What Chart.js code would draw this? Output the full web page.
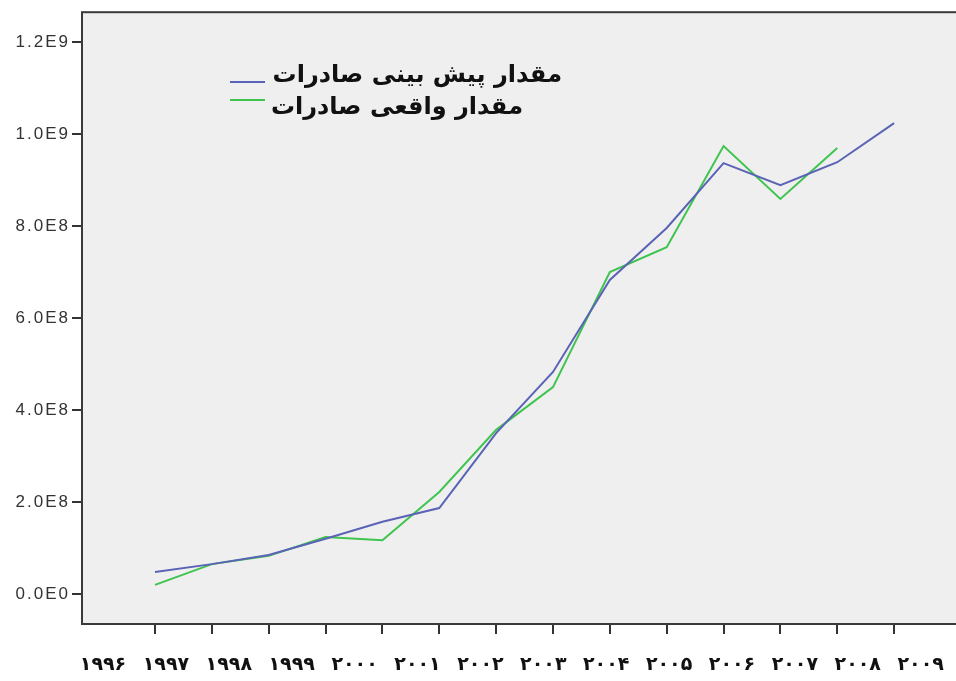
<!DOCTYPE html>
<html>
<head>
<meta charset="utf-8">
<script src="https://cdn.jsdelivr.net/npm/chart.js@4"></script>
<style>
  html, body { margin:0; padding:0; background:#fff; }
  #wrap { width:956px; height:681px; }
</style>
</head>
<body>
<div id="wrap"><canvas id="chart" width="956" height="681"></canvas></div>
<script>
const years = ['۱۹۹۶','۱۹۹۷','۱۹۹۸','۱۹۹۹','۲۰۰۰','۲۰۰۱','۲۰۰۲','۲۰۰۳','۲۰۰۴','۲۰۰۵','۲۰۰۶','۲۰۰۷','۲۰۰۸','۲۰۰۹'];
const forecast = [0.048e9, 0.065e9, 0.085e9, 0.120e9, 0.157e9, 0.187e9, 0.350e9, 0.483e9, 0.683e9, 0.796e9, 0.937e9, 0.889e9, 0.939e9, 1.024e9];
const actual = [0.020e9, 0.065e9, 0.083e9, 0.124e9, 0.117e9, 0.222e9, 0.357e9, 0.450e9, 0.700e9, 0.754e9, 0.974e9, 0.859e9, 0.970e9];
const yTicks = [0, 0.2e9, 0.4e9, 0.6e9, 0.8e9, 1.0e9, 1.2e9];
const seriesNames = ['مقدار پیش بینی صادرات', 'مقدار واقعی صادرات'];

function sci(v){
    if (v === 0) return '0.0E0';
    const e = Math.floor(Math.log10(v) + 1e-9);
    return (v / Math.pow(10, e)).toFixed(1) + 'E' + e;
}

// plot background + frame, and the wide letter spacing of the axis text
const frame = {
    id: 'frame',
    beforeDraw(chart){
        chart.ctx.letterSpacing = '2px';
    },
    beforeDatasetsDraw(chart){
        const {ctx, chartArea:a} = chart;
        ctx.letterSpacing = '0px';
        ctx.save();
        ctx.fillStyle = '#efefef';
        ctx.fillRect(a.left, a.top, a.right - a.left + 4, a.bottom - a.top);
        ctx.restore();
    },
    afterDatasetsDraw(chart){
        const {ctx, chartArea:a} = chart;
        ctx.save();
        ctx.strokeStyle = '#3a3a3a';
        ctx.lineWidth = 2;
        ctx.strokeRect(a.left, a.top, a.right - a.left + 8, a.bottom - a.top);
        ctx.restore();
    }
};

// legend drawn inside the plot, like the original
const innerLegend = {
    id: 'innerLegend',
    afterDraw(chart){
        const ctx = chart.ctx;
        const rows = [
            {line:[230,265,82], text:[562,76]},
            {line:[230,265,100], text:[523,108]}
        ];
        ctx.save();
        ctx.letterSpacing = '0px';
        chart.data.datasets.forEach((ds, i) => {
            const r = rows[i];
            ctx.strokeStyle = ds.borderColor;
            ctx.lineWidth = 2;
            ctx.beginPath();
            ctx.moveTo(r.line[0], r.line[2]);
            ctx.lineTo(r.line[1], r.line[2]);
            ctx.stroke();
            ctx.fillStyle = '#111';
            ctx.font = 'bold 24px "DejaVu Sans"';
            ctx.textAlign = 'right';
            ctx.textBaseline = 'middle';
            ctx.direction = 'rtl';
            ctx.fillText(ds.label, r.text[0], r.text[1]);
        });
        ctx.restore();
    }
};

new Chart(document.getElementById('chart'), {
    type: 'line',
    data: {
        datasets: [
            { label: seriesNames[0], data: forecast.map((v, i) => ({x:i, y:v})), borderColor: '#5a63b5', borderWidth: 2, pointRadius: 0, fill: false, tension: 0 },
            { label: seriesNames[1], data: actual.map((v, i) => ({x:i, y:v})), borderColor: '#3fc44f', borderWidth: 2, pointRadius: 0, fill: false, tension: 0 }
        ]
    },
    options: {
        responsive: false,
        animation: false,
        layout: { padding: { top: 12, right: 0, left: 0, bottom: 0 } },
        plugins: { legend: { display: false }, tooltip: { enabled: false } },
        scales: {
            x: {
                type: 'linear', position: 'bottom', weight: 0,
                min: -1.284, max: 14.02,
                afterBuildTicks: s => { s.ticks = years.map((_, i) => ({value: i})); },
                afterFit: s => { s.height = 10; },
                grid: { drawOnChartArea: false, drawTicks: true, tickLength: 10, color: '#333', lineWidth: 2 },
                border: { display: false },
                ticks: { display: false }
            },
            x2: {
                type: 'linear', position: 'bottom', weight: 1,
                min: -0.334, max: 13.5,
                afterBuildTicks: s => { s.ticks = years.map((_, i) => ({value: i})); },
                afterFit: s => { s.height = 47; },
                grid: { display: false },
                border: { display: false },
                ticks: { color: '#111', padding: 12, maxRotation: 0, autoSkip: false,
                         font: { family: 'DejaVu Sans', size: 19, weight: 'bold' },
                         callback: v => years[v] }
            },
            y: {
                min: -0.0652e9, max: 1.2652e9,
                afterBuildTicks: s => { s.ticks = yTicks.map(v => ({value: v})); },
                afterFit: s => { s.width = 82; },
                grid: { drawOnChartArea: false, drawTicks: true, tickLength: 10, color: '#333', lineWidth: 2 },
                border: { display: false },
                ticks: { color: '#333', padding: 2,
                         font: { family: 'Liberation Sans', size: 17 },
                         callback: v => sci(v) }
            }
        }
    },
    plugins: [frame, innerLegend]
});
</script>
</body>
</html>
